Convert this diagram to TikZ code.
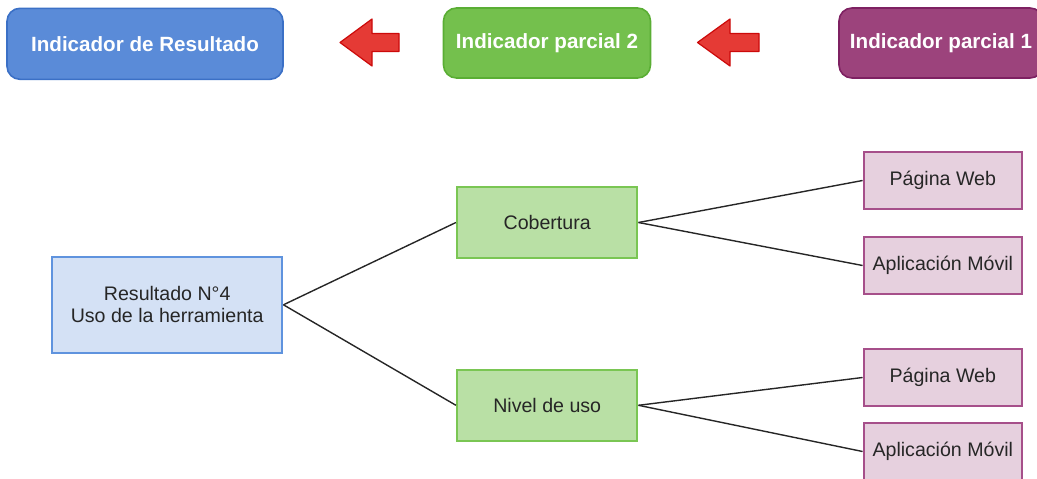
\documentclass[tikz,border=0pt]{standalone}
\usepackage{fontspec}
\setmainfont{Liberation Sans}
\definecolor{blueF}{HTML}{5A8BD8}
\definecolor{blueD}{HTML}{3B70C6}
\definecolor{greenF}{HTML}{74C04D}
\definecolor{greenD}{HTML}{5AAE34}
\definecolor{purpF}{HTML}{9C437C}
\definecolor{purpD}{HTML}{7E2162}
\definecolor{redF}{HTML}{E53A35}
\definecolor{redD}{HTML}{CC0A0A}
\definecolor{resF}{HTML}{D4E1F5}
\definecolor{resD}{HTML}{5F93DE}
\definecolor{subF}{HTML}{B9E0A5}
\definecolor{subD}{HTML}{7AC653}
\definecolor{leafF}{HTML}{E6D0DE}
\definecolor{leafD}{HTML}{A64F8A}
\definecolor{ink}{HTML}{262626}
\begin{document}
\begin{tikzpicture}[x=1pt,y=-1pt,
  header/.style={rounded corners=13pt, draw, line width=1.6pt, text=white,
    font=\fontsize{20.6}{24}\selectfont\bfseries, inner sep=0pt,
    minimum height=70pt},
  box/.style={draw, line width=2pt, text=ink, align=center, inner sep=0pt,
    font=\fontsize{19.6}{22}\selectfont},
  result/.style={box, fill=resF, draw=resD, minimum width=230.5pt, minimum height=95.5pt},
  partial/.style={box, fill=subF, draw=subD, minimum width=180.5pt, minimum height=70.4pt},
  leaf/.style={box, fill=leafF, draw=leafD, minimum width=158.5pt, minimum height=57pt},
  link/.style={draw=ink, line width=1.4pt},
  flow/.style={fill=redF, draw=redD, line width=1.2pt, line join=round}
]
\useasboundingbox (0,0) rectangle (1037,479);
\clip (0,0) rectangle (1037,479);

% header row
\node[header, fill=blueF, draw=blueD, minimum width=276pt, minimum height=71pt] (ires) at (145,43.8) {Indicador de Resultado};
\node[header, fill=greenF, draw=greenD, minimum width=207pt] (ip2) at (547,43) {Indicador parcial 2};
\node[header, fill=purpF, draw=purpD, minimum width=204pt] (ip1) at (941,43) {Indicador parcial 1};

% red arrows pointing left
\draw[flow] (340,42.5) -- (372,19) -- (372,33.5) -- (399,33.5) -- (399,51.5) -- (372,51.5) -- (372,66) -- cycle;
\draw[flow] (697.5,42.5) -- (730,19) -- (730,33.5) -- (759,33.5) -- (759,51.5) -- (730,51.5) -- (730,66) -- cycle;

% tree
\node[result] (res) at (167.2,304.8) {Resultado N°4\\Uso de la herramienta};
\node[partial] (cob) at (547.2,222.5) {Cobertura};
\node[partial] (niv) at (547.2,405.3) {Nivel de uso};
\node[leaf] (web1) at (942.8,180.5) {Página Web};
\node[leaf] (app1) at (942.8,265.5) {Aplicación Móvil};
\node[leaf] (web2) at (942.8,377.5) {Página Web};
\node[leaf] (app2) at (942.8,451.5) {Aplicación Móvil};

\draw[link] (res.east) -- (cob.west);
\draw[link] (res.east) -- (niv.west);
\draw[link] (cob.east) -- (web1.west);
\draw[link] (cob.east) -- (app1.west);
\draw[link] (niv.east) -- (web2.west);
\draw[link] (niv.east) -- (app2.west);
\end{tikzpicture}
\end{document}
